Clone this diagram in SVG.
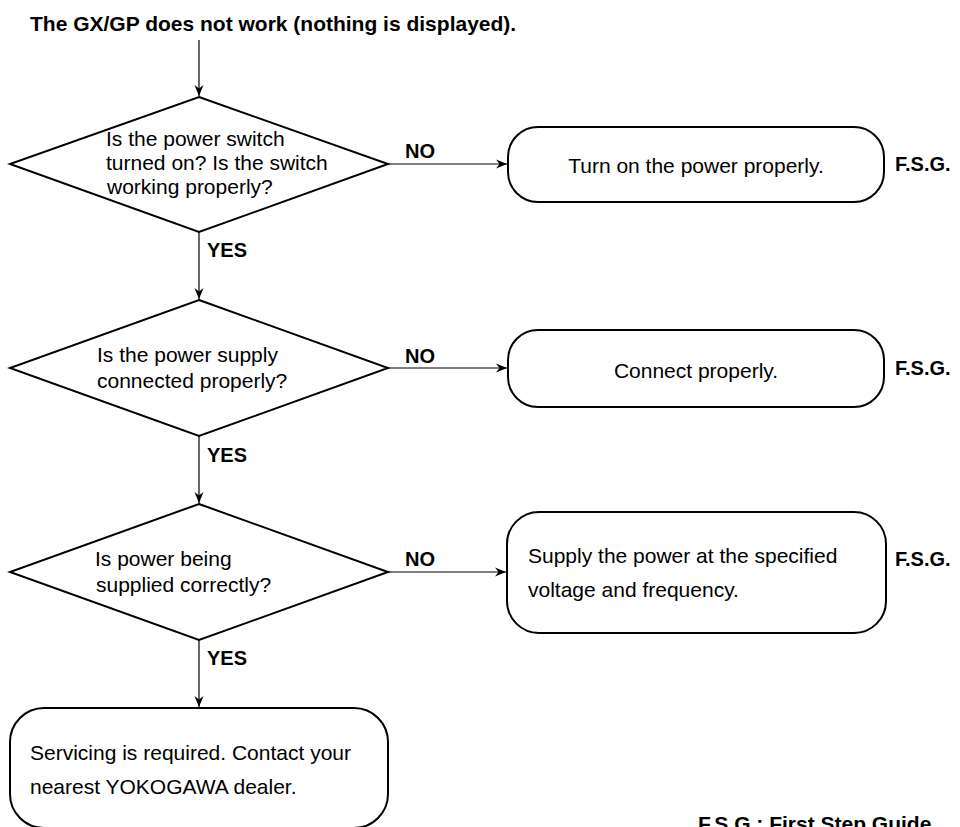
<svg xmlns="http://www.w3.org/2000/svg" width="960" height="827" viewBox="0 0 960 827">
<defs>
<style>
.shape{fill:#fff;stroke:#000;stroke-width:2}
.conn{fill:none;stroke:#000;stroke-width:1.2}
.t{font-family:"Liberation Sans",Arial,sans-serif;font-size:21px;fill:#000}
.b{font-family:"Liberation Sans",Arial,sans-serif;font-size:20px;font-weight:bold;fill:#000}
.bt{font-family:"Liberation Sans",Arial,sans-serif;font-size:21px;font-weight:bold;fill:#000}
</style>
<marker id="arr" markerUnits="userSpaceOnUse" markerWidth="12" markerHeight="12" viewBox="-11 -6 12 12" refX="0" refY="0" orient="auto">
<path d="M0,0 L-11,-4.5 L-7.5,0 L-11,4.5 Z" fill="#000"/>
</marker>
</defs>
<rect width="960" height="827" fill="#fff"/>
<text class="bt" x="30" y="31">The GX/GP does not work (nothing is displayed).</text>
<g id="connectors">
<line class="conn" x1="199" y1="40" x2="199" y2="96" marker-end="url(#arr)"/>
<line class="conn" x1="199" y1="232" x2="199" y2="299" marker-end="url(#arr)"/>
<line class="conn" x1="199" y1="436" x2="199" y2="503" marker-end="url(#arr)"/>
<line class="conn" x1="199" y1="640" x2="199" y2="707" marker-end="url(#arr)"/>
<line class="conn" x1="388" y1="164" x2="507" y2="164" marker-end="url(#arr)"/>
<line class="conn" x1="388" y1="368" x2="507" y2="368" marker-end="url(#arr)"/>
<line class="conn" x1="388" y1="572" x2="506" y2="572" marker-end="url(#arr)"/>
<text class="b" x="405" y="158">NO</text>
<text class="b" x="405" y="363">NO</text>
<text class="b" x="405" y="566">NO</text>
<text class="b" x="207" y="257">YES</text>
<text class="b" x="207" y="462">YES</text>
<text class="b" x="207" y="665">YES</text>
</g>
<g id="d1">
<polygon class="shape" points="199,97 388,164 199,232 10,164"/>
<text class="t" x="106" y="146">Is the power switch</text>
<text class="t" x="106" y="170">turned on? Is the switch</text>
<text class="t" x="107" y="194">working properly?</text>
</g>
<g id="b1">
<rect class="shape" x="508" y="127" width="376" height="75" rx="30" ry="30"/>
<text class="t" x="696" y="173" text-anchor="middle">Turn on the power properly.</text>
<text class="b" x="895" y="171">F.S.G.</text>
</g>
<g id="d2">
<polygon class="shape" points="199,300 388,368 199,436 10,368"/>
<text class="t" x="97" y="362">Is the power supply</text>
<text class="t" x="97" y="388">connected properly?</text>
</g>
<g id="b2">
<rect class="shape" x="508" y="330" width="376" height="77" rx="30" ry="30"/>
<text class="t" x="696" y="378" text-anchor="middle">Connect properly.</text>
<text class="b" x="895" y="375">F.S.G.</text>
</g>
<g id="d3">
<polygon class="shape" points="199,504 388,572 199,640 10,572"/>
<text class="t" x="95" y="566">Is power being</text>
<text class="t" x="96" y="592">supplied correctly?</text>
</g>
<g id="b3">
<rect class="shape" x="507" y="512" width="379" height="121" rx="32" ry="32"/>
<text class="t" x="528" y="563">Supply the power at the specified</text>
<text class="t" x="528" y="597">voltage and frequency.</text>
<text class="b" x="895" y="566">F.S.G.</text>
</g>
<g id="b4">
<rect class="shape" x="10" y="708" width="378" height="120" rx="34" ry="34"/>
<text class="t" x="30" y="760">Servicing is required. Contact your</text>
<text class="t" x="30" y="794">nearest YOKOGAWA dealer.</text>
</g>
<text class="bt" x="698" y="831">F.S.G.: First Step Guide</text>
</svg>
